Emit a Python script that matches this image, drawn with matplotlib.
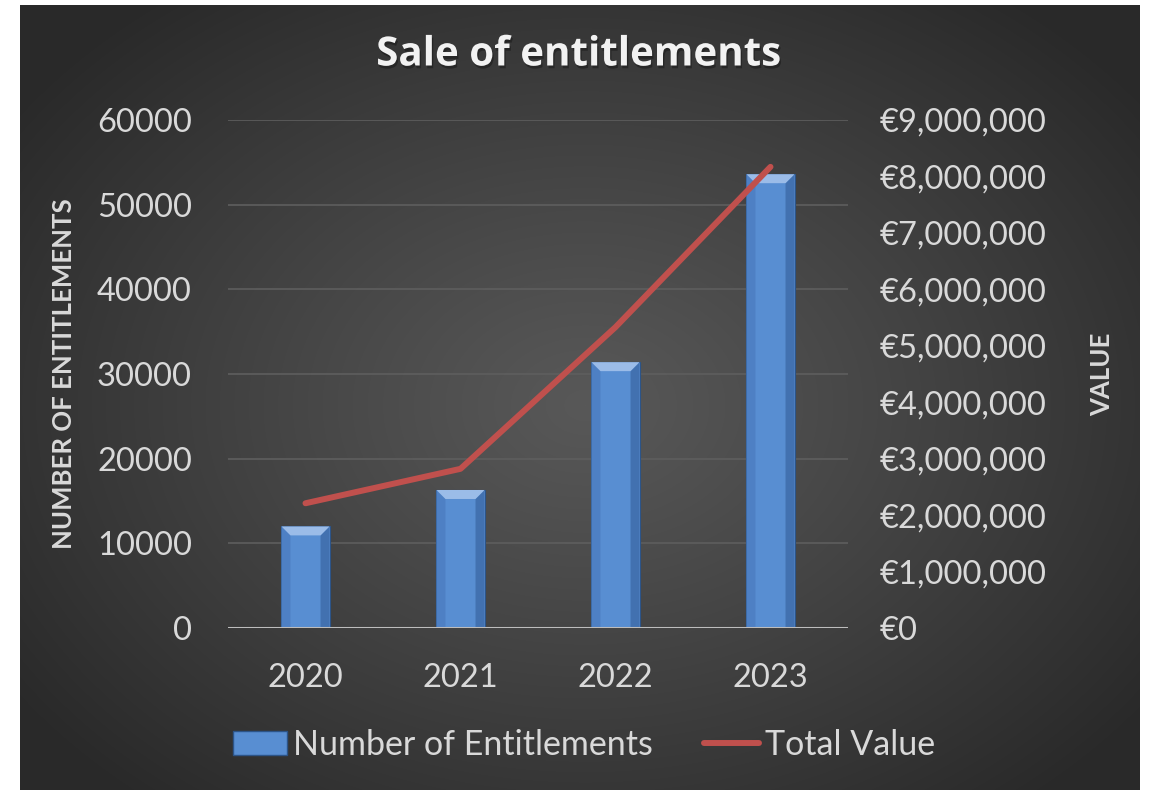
import numpy as np
import matplotlib.pyplot as plt
import matplotlib.patheffects as pe
from matplotlib.patches import Polygon, Patch
from matplotlib.lines import Line2D
from matplotlib.ticker import FuncFormatter

years = ["2020", "2021", "2022", "2023"]
entitlements = [12000, 16300, 31400, 53600]
total_value = [2210000, 2820000, 5330000, 8170000]

plt.rcParams['font.family'] = ['Lato', 'DejaVu Sans']

W, H = 1150, 790
fig = plt.figure(figsize=(W / 100, H / 100), dpi=100)
fig.patch.set_facecolor('white')

# dark radial gradient behind the chart
bg = fig.add_axes([20 / W, 0, 1120 / W, 785 / H])
bg.axis('off')
yy, xx = np.mgrid[0:785, 0:1120]
r = np.hypot((xx - 565) / 700.0, (yy - 400) / 520.0)
r = np.clip(r, 0, 1)
inner, outer = 0x58, 0x29
shade = (inner + (outer - inner) * r ** 1.1) / 255.0
bg.imshow(np.dstack([shade] * 3), aspect='auto', extent=[0, 1, 0, 1])

ax = fig.add_axes([228 / W, 162 / H, 620 / W, 508 / H])
ax.patch.set_alpha(0)
ax2 = ax.twinx()

txt = '#d9d9d9'
x = np.arange(len(years))
bar_w = 0.31
bars = ax.bar(x, entitlements, width=bar_w, color='#588ed2',
              edgecolor='#2c5488', linewidth=0.8, zorder=3)

# bevel on each bar
bx = 9 / 620 * 4
by = 9 / 508 * 60000
for b in bars:
    x0, w, h = b.get_x(), b.get_width(), b.get_height()
    ax.add_patch(Polygon([(x0, 0), (x0, h), (x0 + bx, h - by), (x0 + bx, 0)],
                         closed=True, color='#4e80c4', lw=0, zorder=4))
    ax.add_patch(Polygon([(x0 + w, 0), (x0 + w, h), (x0 + w - bx, h - by), (x0 + w - bx, 0)],
                         closed=True, color='#4271b0', lw=0, zorder=4))
    ax.add_patch(Polygon([(x0, h), (x0 + w, h), (x0 + w - bx, h - by), (x0 + bx, h - by)],
                         closed=True, color='#9bbce8', lw=0, zorder=4))

ax.set_xlim(-0.5, 3.5)
ax.set_ylim(0, 60000)
ax.set_yticks(range(0, 60001, 10000))
ax.set_xticks(x)
ax.set_xticklabels(years)
ax.grid(axis='y', color='#5e5e5e', linewidth=1.2, zorder=0)
ax.set_axisbelow(True)
for s in ax.spines.values():
    s.set_visible(False)
for s in ax2.spines.values():
    s.set_visible(False)
ax.axhline(0, color='#bdbdbd', linewidth=2.2, zorder=5)
ax.tick_params(axis='both', length=0, colors=txt, labelsize=23.5)
ax.tick_params(axis='y', pad=26)
ax.tick_params(axis='x', pad=25)

line, = ax2.plot(x, total_value, color='#c0504d', linewidth=4.3,
                 solid_capstyle='round', solid_joinstyle='round', zorder=6)
ax2.set_ylim(0, 9000000)
ax2.set_yticks(range(0, 9000001, 1000000))
ax2.yaxis.set_major_formatter(FuncFormatter(lambda v, p: '€{:,.0f}'.format(v)))
ax2.tick_params(axis='y', length=0, colors=txt, labelsize=23.5, pad=23)

ax.set_ylabel('NUMBER OF ENTITLEMENTS', color=txt, fontsize=18.5,
              fontweight='bold')
ax.yaxis.set_label_coords(-0.245, 0.5)
ax2.set_ylabel('VALUE', color=txt, fontsize=18.5, fontweight='bold',
               rotation=90)
ax2.yaxis.set_label_coords(1 + 242 / 620, 0.5)

fig.text(578 / W, 1 - 55 / H, 'Sale of entitlements', color='#f2f2f2',
         fontsize=29, fontweight='bold', ha='center', va='center',
         family=['Open Sans', 'DejaVu Sans'],
         path_effects=[pe.withSimplePatchShadow(offset=(1, -2), shadow_rgbFace='black', alpha=0.3)])

handles = [Patch(facecolor='#588ed2', edgecolor='#2c5488'),
           Line2D([0], [0], color='#c0504d', linewidth=4.3, solid_capstyle='round')]
leg = fig.legend(handles, ['Number of Entitlements', 'Total Value'],
                 loc='center', bbox_to_anchor=(584 / W, 1 - 745 / H), ncol=2,
                 frameon=False, fontsize=24.5, labelcolor=txt,
                 handlelength=1.6, handletextpad=0.18, columnspacing=1.5)

fig.savefig('out.png', dpi=100)
